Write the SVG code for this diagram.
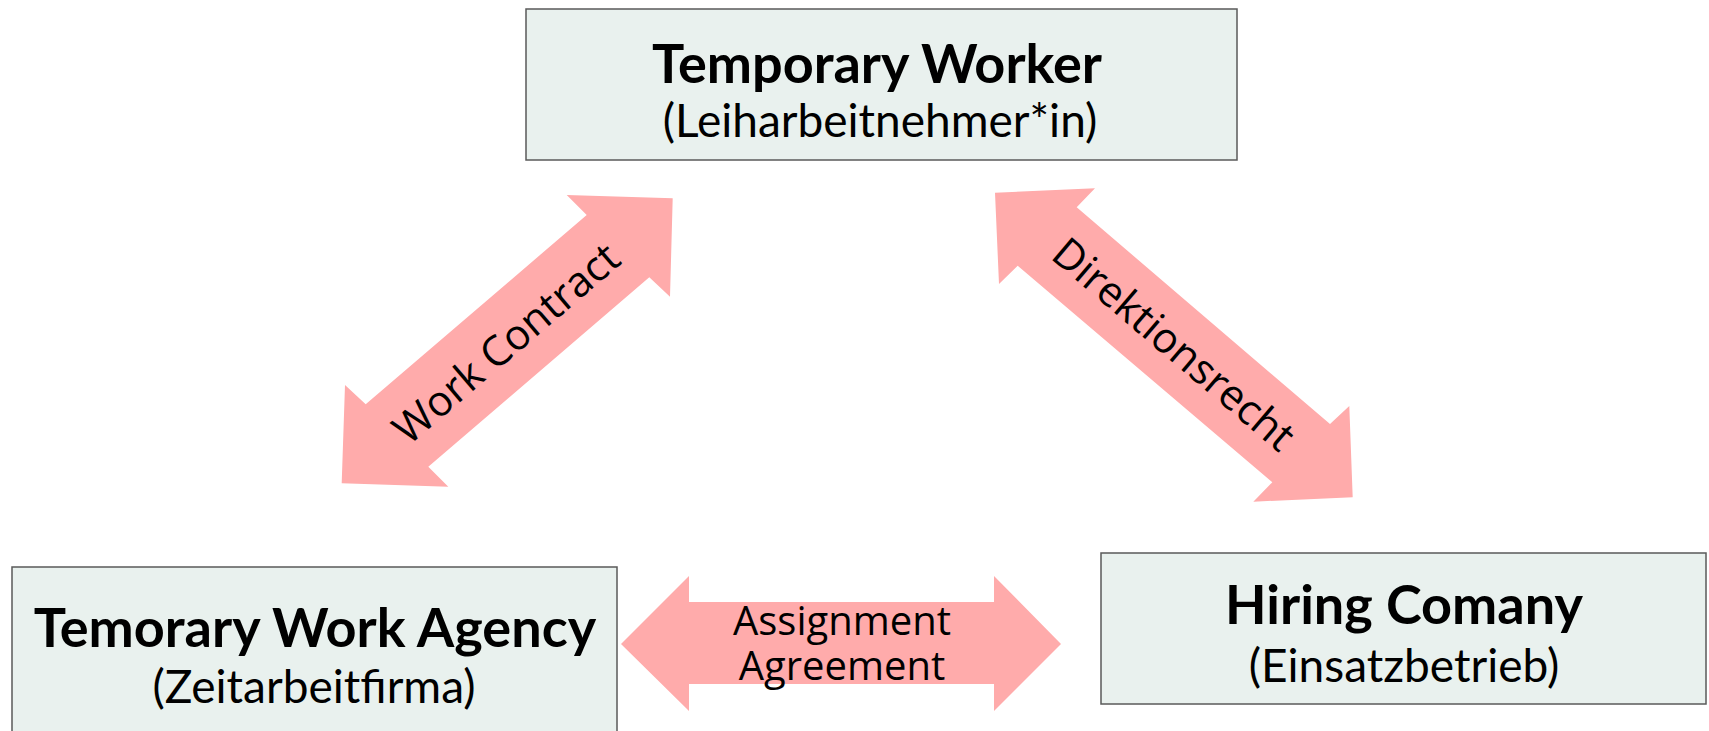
<svg xmlns="http://www.w3.org/2000/svg" width="1709" height="731" viewBox="0 0 1709 731">
<style>
.box{fill:#E9F1EE;stroke:#5a5a5a;stroke-width:1.5}
.title{font-family:Lato,"Open Sans",sans-serif;font-weight:bold;font-size:54px;fill:#000;text-anchor:middle}
.sub{font-family:Lato,"Open Sans",sans-serif;font-size:46px;fill:#000;text-anchor:middle}
.arrow{fill:#FFABAB}
.lbl{font-family:"Open Sans","Noto Sans",sans-serif;font-size:42px;fill:#000;text-anchor:middle}
.lbl2{font-family:"Open Sans","Noto Sans",sans-serif;font-size:40px;fill:#000;text-anchor:middle}
</style>
<rect width="1709" height="731" fill="#fff"/>
<g id="connectors">
<g id="work-contract">
<polygon class="arrow" points="672.7,198.3 670,296.7 649.3,277.3 428.3,466.7 448.3,486.7 341.7,483.3 345,385 365.7,404.3 586.7,215 566.7,195"/>
<text class="lbl" transform="translate(506,343) rotate(-40.6)" y="15">Work Contract</text>
</g>
<g id="direktionsrecht">
<polygon class="arrow" points="995,192.7 1095,188.3 1076.7,207.3 1330,424 1349.3,406 1352.7,497.3 1253.3,501.7 1272.3,482.3 1017.7,265.7 999,284"/>
<text class="lbl" transform="translate(1174,344) rotate(40.4)" y="15">Direktionsrecht</text>
</g>
<g id="assignment-agreement">
<polygon class="arrow" points="621,644 689,576 689,602 994,602 994,576 1061,644 994,711 994,684 689,684 689,711"/>
<text class="lbl2" x="842" y="635">Assignment</text>
<text class="lbl2" x="842" y="680">Agreement</text>
</g>
</g>
<g id="temporary-worker">
<rect class="box" x="526" y="9" width="711" height="151"/>
<text class="title" x="877" y="83">Temporary Worker</text>
<text class="sub" x="880" y="137">(Leiharbeitnehmer*in)</text>
</g>
<g id="temporary-work-agency">
<rect class="box" x="12" y="567" width="605" height="170"/>
<text class="title" x="315" y="647">Temorary Work Agency</text>
<text class="sub" x="314" y="703">(Zeitarbeitfirma)</text>
</g>
<g id="hiring-company">
<rect class="box" x="1101" y="553" width="605" height="151"/>
<text class="title" x="1404" y="624">Hiring Comany</text>
<text class="sub" x="1404" y="682">(Einsatzbetrieb)</text>
</g>
</svg>
